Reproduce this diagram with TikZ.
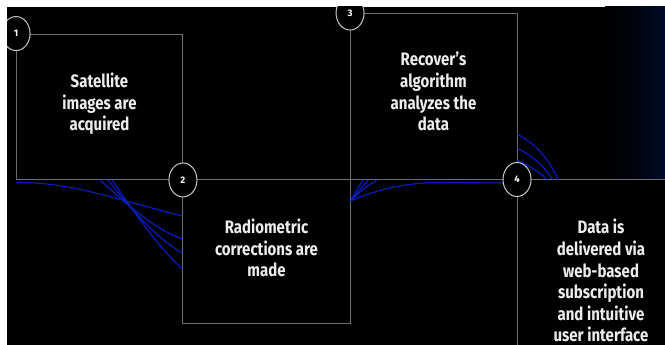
\documentclass[tikz,border=0pt]{standalone}
\usepackage{fontspec}
\setmainfont{Fira Sans}
\usetikzlibrary{shapes.geometric}
\definecolor{edgec}{HTML}{6E6E6E}
\definecolor{ringc}{HTML}{C8C8C8}
\definecolor{wavec}{HTML}{0A1EC8}
\definecolor{txtc}{HTML}{EDEDED}
\definecolor{glowc}{HTML}{000A2A}
\newcommand{\stretchtext}[1]{\scalebox{1}[1.2]{\begin{tabular}{@{}c@{}}#1\end{tabular}}}
\begin{document}
\begin{tikzpicture}[x=1pt,y=-1pt,
  boxline/.style={draw=edgec, line width=0.9pt},
  stepring/.style={ellipse, draw=ringc, line width=1pt, fill=black, minimum width=28pt, minimum height=34pt, inner sep=0pt, text=white, font=\bfseries\fontsize{9.5}{10}\selectfont},
  wave/.style={draw=wavec, line width=1.1pt},
  steptext/.style={text=txtc, inner sep=0pt, font=\bfseries\fontsize{15}{18}\selectfont}]
\useasboundingbox (0,0) rectangle (665,345);
\fill[white] (0,0) rectangle (665,345);
\clip (7,7) rectangle (665,345);
\fill[black] (7,7) rectangle (665,345);
\shade[left color=black, right color=glowc, middle color=black!70!glowc] (605,7) rectangle (665,179.5);
% boxes
\node[boxline, minimum width=166pt, minimum height=145.5pt, inner sep=0pt] (b1) at (99.5,106.75) {};
\node[boxline, minimum width=168pt, minimum height=144pt, inner sep=0pt] (b2) at (266.5,251.5) {};
\node[boxline, minimum width=166.5pt, minimum height=166pt, inner sep=0pt] (b3) at (433.75,96.5) {};
\coordinate (b4nw) at (517,179.5);
\coordinate (b4ne) at (670,179.5);
\coordinate (b4sw) at (517,350);
\draw[boxline] (b4sw) -- (b4nw) -- (b4ne);
% waves
\draw[wave] (16.5,182.5) .. controls (70,182.5) and (100,195) .. (182.5,216);
\draw[wave] (100,180) .. controls (115,193) and (150,228) .. (182.5,239);
\draw[wave] (108,180) .. controls (118,192) and (150,235) .. (182.5,253);
\draw[wave] (112,180) .. controls (120,191) and (155,245) .. (182.5,269);
\draw[wave] (350.5,201) .. controls (380,188) and (410,182.5) .. (440,182.5) -- (505,183);
\draw[wave] (350.5,201) .. controls (355,193) .. (363,180);
\draw[wave] (350.5,201) .. controls (358,192) .. (368,180);
\draw[wave] (350.5,201) .. controls (362,190) .. (377,180);
\draw[wave] (517,134) .. controls (540,146) and (552,165) .. (558,180);
\draw[wave] (517,148) .. controls (535,157) and (547,170) .. (553,180);
\draw[wave] (517,160) .. controls (532,167) and (542,174) .. (547,180);
% rings
\node[stepring] (n1) at (b1.north west) {1};
\node[stepring] (n2) at (b1.south east) {2};
\node[stepring] (n3) at (b3.north west) {3};
\node[stepring] (n4) at (b4nw) {4};
% texts
\node[steptext] (t1) at (99.5,105) {\stretchtext{Satellite\\images are\\acquired}};
\node[steptext] (t2) at (266.5,251) {\stretchtext{Radiometric\\corrections are\\made}};
\node[steptext] (t3) at (433.5,94) {\stretchtext{Recover's\\algorithm\\analyzes the\\data}};
\node[steptext] (t4) at (601,283.5) {\stretchtext{Data is\\delivered via\\web-based\\subscription\\and intuitive\\user interface}};
\end{tikzpicture}
\end{document}
